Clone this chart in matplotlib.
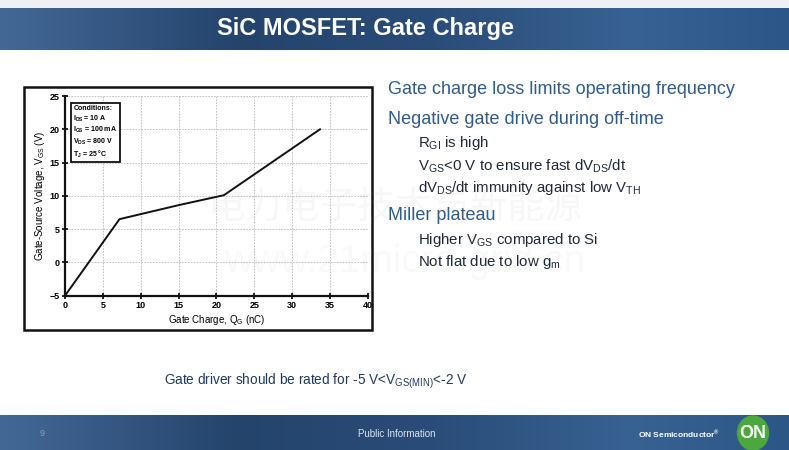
import numpy as np
import matplotlib
matplotlib.use("Agg")
import matplotlib.pyplot as plt
from matplotlib.patches import Rectangle, Ellipse

plt.rcParams["font.family"] = ["Liberation Sans", "DejaVu Sans"]
plt.rcParams["mathtext.default"] = "regular"

# gate charge curve
gate_charge = [0.0, 7.2, 15.0, 21.0, 33.7]      # nC
gate_voltage = [-5.0, 6.5, 8.6, 10.1, 20.0]     # V

x_ticks = [0, 5, 10, 15, 20, 25, 30, 35, 40]
y_ticks = [-5, 0, 5, 10, 15, 20, 25]

conditions = ["Conditions:", "$I_{DS}$ = 10 A", "$I_{GS}$ = 100 mA",
              "$V_{DS}$ = 800 V", "$T_{J}$ = 25 °C"]

bullets = [
    ("Gate charge loss limits operating frequency", 0),
    ("Negative gate drive during off-time", 0),
    ("$R_{GI}$ is high", 1),
    ("$V_{GS}$<0 V to ensure fast d$V_{DS}$/dt", 1),
    ("d$V_{DS}$/dt immunity against low $V_{TH}$", 1),
    ("Miller plateau", 0),
    ("Higher $V_{GS}$ compared to Si", 1),
    ("Not flat due to low $g_{m}$", 1),
]
bullet_y = [90, 119, 143, 166, 188, 216, 240, 262]

W, H = 789, 450
fig = plt.figure(figsize=(W / 100, H / 100), dpi=100)
fig.patch.set_facecolor("white")

bg = fig.add_axes([0, 0, 1, 1], zorder=0)
bg.set_xlim(0, W)
bg.set_ylim(H, 0)
bg.axis("off")


def band(y0, y1):
    anchors = np.array([0.0, 0.3, 0.55, 0.8, 1.0])
    cols = np.array([[0x44, 0x68, 0x96], [0x24, 0x44, 0x6c], [0x2a, 0x4c, 0x78],
                     [0x38, 0x62, 0x92], [0x2c, 0x56, 0x86]]) / 255.0
    t = np.linspace(0, 1, 400)
    img = np.stack([np.interp(t, anchors, cols[:, k]) for k in range(3)], axis=-1)
    bg.imshow(img[None, :, :], extent=[0, W, y1, y0], aspect="auto", zorder=1)


# top strip and header band
bg.add_patch(Rectangle((0, 0), W, 8, color="#eef0f4", zorder=1))
band(8, 50)
band(415, 450)
bg.set_xlim(0, W)
bg.set_ylim(H, 0)

bg.text(366, 29, "SiC MOSFET: Gate Charge", color="white", fontsize=17,
        fontweight="bold", ha="center", va="center", zorder=3)

# footer
bg.text(42, 434, "9", color="#8fa0b4", fontsize=6.5, ha="center", va="center", zorder=3)
bg.text(397, 434, "Public Information", color="#dde4ee", fontsize=7,
        ha="center", va="center", zorder=3)
bg.text(720, 434, "ON Semiconductor$^{®}$", color="white", fontsize=6,
        fontweight="bold", ha="right", va="center", zorder=3)
bg.add_patch(Ellipse((753, 433), 31, 34, color="#4aa83c", zorder=3))
bg.text(753, 434, "ON", color="white", fontsize=13, fontweight="bold",
        ha="center", va="center", zorder=4)

# chart frame
bg.add_patch(Rectangle((24, 87), 348, 243, facecolor="white", edgecolor="#111111",
                       linewidth=1.8, zorder=2))

# right-hand bullet text
for (txt, level), y in zip(bullets, bullet_y):
    if level == 0:
        bg.text(388, y, txt, color="#2f5b8a", fontsize=13, va="center", zorder=3)
    else:
        bg.text(418, y, txt, color="#1e2a3a", fontsize=10.8, va="center", zorder=3)

bg.text(164, 381, "Gate driver should be rated for -5 V<$V_{GS(MIN)}$<-2 V",
        color="#1f3a5c", fontsize=9.8, va="center", zorder=3)

# the gate charge chart
ax = fig.add_axes([65 / W, 1 - 295.7 / H, (367.7 - 65) / W, (295.7 - 96) / H], zorder=1)
ax.set_facecolor("white")
ax.plot(gate_charge, gate_voltage, color="#111111", linewidth=1.4)
ax.set_xlim(0, 40)
ax.set_ylim(-5, 25)
ax.set_xticks(x_ticks)
ax.set_yticks(y_ticks)
ax.grid(True, color="#b8b8b8", linestyle=(0, (2, 1.5)), linewidth=0.6)
for s in ["top", "right"]:
    ax.spines[s].set_visible(False)
for s in ["left", "bottom"]:
    ax.spines[s].set_linewidth(1.6)
    ax.spines[s].set_color("#111111")
ax.tick_params(direction="inout", length=4, width=1.2, labelsize=6.5, pad=2)
for lab in ax.get_xticklabels() + ax.get_yticklabels():
    lab.set_fontweight("bold")
ax.set_xlabel("Gate Charge, $Q_{G}$ (nC)", fontsize=7, labelpad=2)
ax.set_ylabel("Gate-Source Voltage, $V_{GS}$ (V)", fontsize=7, labelpad=2)

ax.text(0.028, 0.955, "\n".join(conditions), transform=ax.transAxes, fontsize=5,
        fontweight="bold", va="top", ha="left", linespacing=1.2,
        bbox=dict(boxstyle="square,pad=0.4", facecolor="white", edgecolor="#111111",
                  linewidth=1.3))

# faint watermark
fig.text(395 / W, 1 - 208 / H, "电力电子技术与新能源", fontsize=27, color="#999999",
         alpha=0.07, ha="center", va="center", family=["Noto Sans CJK SC", "DejaVu Sans"],
         zorder=5)
fig.text(405 / W, 1 - 262 / H, "www.21micro-grid.cn", fontsize=28, color="#999999",
         alpha=0.06, ha="center", va="center", zorder=5)

fig.savefig("out.png", dpi=100)
